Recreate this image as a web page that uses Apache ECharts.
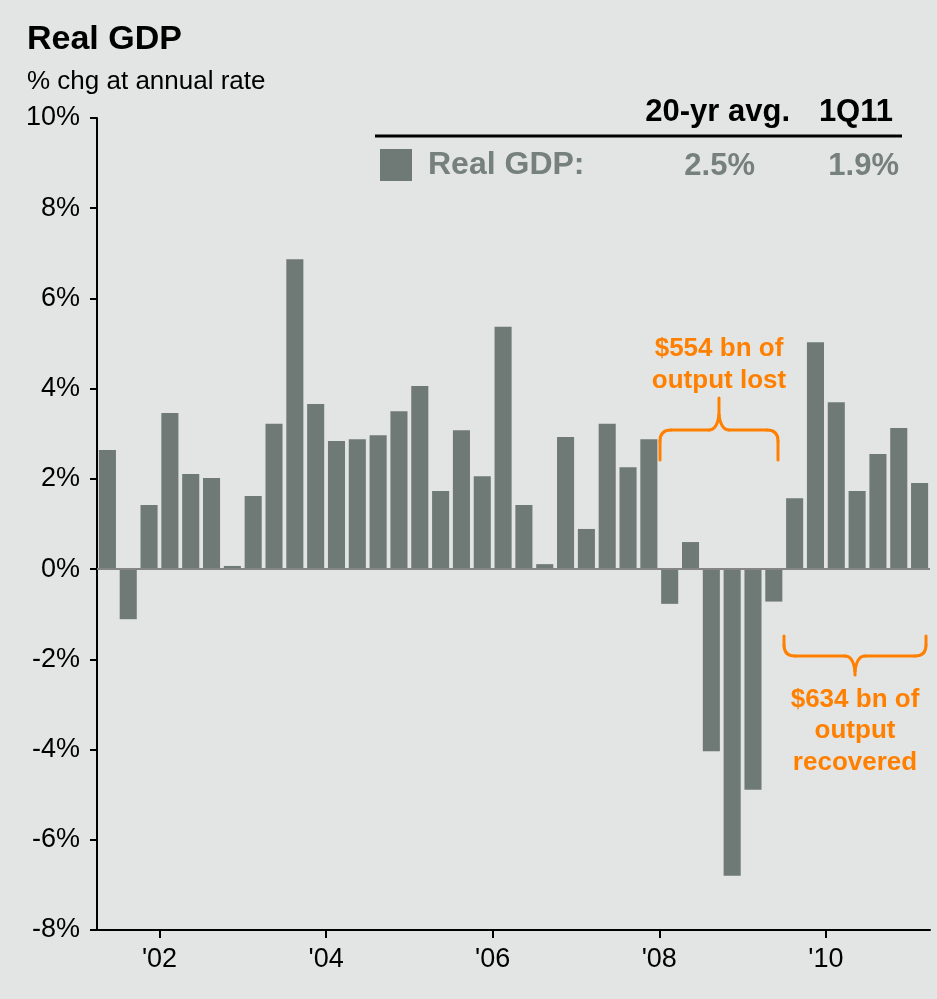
<!DOCTYPE html>
<html>
<head>
    <meta charset="utf-8"/>
    <title>Real GDP</title>
    <script src="https://cdn.jsdelivr.net/npm/echarts@6/dist/echarts.min.js"></script>
    <style>
        html, body { margin: 0; padding: 0; background: #e3e5e4; }
    </style>
</head>
<body>
<div id="main" style="width: 937px;height:999px;"></div>
<script type="text/javascript">
    // quarters, 2Q01 .. 1Q11
    var quarters = ['2Q01','3Q01','4Q01','1Q02','2Q02','3Q02','4Q02','1Q03','2Q03','3Q03',
                    '4Q03','1Q04','2Q04','3Q04','4Q04','1Q05','2Q05','3Q05','4Q05','1Q06',
                    '2Q06','3Q06','4Q06','1Q07','2Q07','3Q07','4Q07','1Q08','2Q08','3Q08',
                    '4Q08','1Q09','2Q09','3Q09','4Q09','1Q10','2Q10','3Q10','4Q10','1Q11'];
    // real GDP, % chg at annual rate
    var gdp = [2.64, -1.11, 1.42, 3.46, 2.11, 2.02, 0.07, 1.62, 3.22, 6.87,
               3.66, 2.84, 2.88, 2.97, 3.50, 4.06, 1.73, 3.08, 2.06, 5.37,
               1.42, 0.11, 2.93, 0.89, 3.22, 2.26, 2.88, -0.77, 0.60, -4.04,
               -6.80, -4.89, -0.72, 1.57, 5.03, 3.70, 1.73, 2.55, 3.13, 1.91];
    // year ticks on the time axis
    var yearTicks = [2002, 2004, 2006, 2008, 2010];
    var avg20 = '2.5%';
    var latest = '1.9%';

    var FONT = '"Liberation Sans", Arial, Helvetica, sans-serif';
    var ORANGE = '#ff8000';
    var BAR = '#6f7a77';
    var GREYTXT = '#76807d';

    // curly brace built from lines and quadratic curves
    function brace(x1, x2, y, tip, end) {
        var xm = (x1 + x2) / 2;
        var r = 11;
        var st = { stroke: ORANGE, lineWidth: 3, fill: null, lineCap: 'round' };
        var s = tip < y ? -1 : 1;          // direction of the tip
        var e = end < y ? -1 : 1;          // direction of the ends
        var mid = y + s * 15;
        return [
            { type: 'line', shape: { x1: x1, y1: end, x2: x1, y2: y + e * r }, style: st },
            { type: 'bezierCurve', shape: { x1: x1, y1: y + e * r, cpx1: x1, cpy1: y, x2: x1 + r, y2: y }, style: st },
            { type: 'line', shape: { x1: x1 + r, y1: y, x2: xm - 10, y2: y }, style: st },
            { type: 'bezierCurve', shape: { x1: xm - 10, y1: y, cpx1: xm - 2, cpy1: y, x2: xm, y2: mid }, style: st },
            { type: 'bezierCurve', shape: { x1: xm + 10, y1: y, cpx1: xm + 2, cpy1: y, x2: xm, y2: mid }, style: st },
            { type: 'line', shape: { x1: xm, y1: mid, x2: xm, y2: tip }, style: st },
            { type: 'line', shape: { x1: xm + 10, y1: y, x2: x2 - r, y2: y }, style: st },
            { type: 'bezierCurve', shape: { x1: x2 - r, y1: y, cpx1: x2, cpy1: y, x2: x2, y2: y + e * r }, style: st },
            { type: 'line', shape: { x1: x2, y1: y + e * r, x2: x2, y2: end }, style: st }
        ];
    }

    var myChart = echarts.init(document.getElementById('main'));

    var graphics = [
        // table header
        { type: 'text', style: { text: '20-yr avg.', x: 790, y: 112, align: 'right', verticalAlign: 'middle', font: 'bold 31px ' + FONT, fill: '#000' } },
        { type: 'text', style: { text: '1Q11', x: 893, y: 112, align: 'right', verticalAlign: 'middle', font: 'bold 31px ' + FONT, fill: '#000' } },
        { type: 'line', shape: { x1: 375, y1: 136, x2: 902, y2: 136 }, style: { stroke: '#000', lineWidth: 3 } },
        { type: 'text', style: { text: avg20, x: 755, y: 166, align: 'right', verticalAlign: 'middle', font: 'bold 31px ' + FONT, fill: GREYTXT } },
        { type: 'text', style: { text: latest, x: 899, y: 166, align: 'right', verticalAlign: 'middle', font: 'bold 31px ' + FONT, fill: GREYTXT } },
        // annotations
        { type: 'text', style: { text: '$554 bn of\noutput lost', x: 719, y: 365, align: 'center', verticalAlign: 'middle', lineHeight: 32, font: 'bold 26px ' + FONT, fill: ORANGE } },
        { type: 'text', style: { text: '$634 bn of\noutput\nrecovered', x: 855, y: 731, align: 'center', verticalAlign: 'middle', lineHeight: 31.5, font: 'bold 26px ' + FONT, fill: ORANGE } }
    ].concat(brace(660, 778, 430, 398, 460))
     .concat(brace(784, 926, 656, 675, 636));

    var option = {
        backgroundColor: '#e3e5e4',
        animation: false,
        textStyle: { fontFamily: FONT },
        title: [
            { text: 'Real GDP', left: 27, top: 23, padding: 0, textStyle: { fontFamily: FONT, fontSize: 34, fontWeight: 'bold', color: '#000' } },
            { text: '% chg at annual rate', left: 27, top: 69, padding: 0, textStyle: { fontFamily: FONT, fontSize: 26, fontWeight: 'normal', color: '#000' } }
        ],
        legend: {
            left: 380, top: 149, padding: 0,
            itemWidth: 32, itemHeight: 32, itemGap: 10,
            icon: 'rect',
            data: ['Real GDP'],
            formatter: function (n) { return n + ':'; },
            textStyle: { fontFamily: FONT, fontSize: 32, fontWeight: 'bold', color: GREYTXT, padding: [0, 0, 0, 11] }
        },
        grid: { left: 97, right: 7, top: 118, bottom: 69 },
        xAxis: [
            {
                type: 'category',
                data: quarters,
                axisLine: { onZero: false, lineStyle: { color: '#000', width: 2 } },
                axisTick: { show: false },
                axisLabel: { show: false }
            },
            {
                type: 'value',
                position: 'bottom',
                min: 2001.25,
                max: 2011.25,
                axisLine: { show: false, onZero: false },
                splitLine: { show: false },
                axisTick: { show: true, customValues: yearTicks, length: 8, lineStyle: { color: '#000', width: 2 } },
                axisLabel: {
                    customValues: yearTicks,
                    margin: 16,
                    fontFamily: FONT, fontSize: 27, color: '#000',
                    formatter: function (v) { return "'" + String(v).slice(2); }
                }
            }
        ],
        yAxis: {
            type: 'value',
            min: -8, max: 10, interval: 2,
            axisLine: { show: true, lineStyle: { color: '#000', width: 2 } },
            axisTick: { show: true, length: 7, lineStyle: { color: '#000', width: 2 } },
            axisLabel: { margin: 17, fontFamily: FONT, fontSize: 27, color: '#000', formatter: '{value}%' },
            splitLine: { show: false }
        },
        series: [{
            name: 'Real GDP',
            type: 'bar',
            data: gdp,
            barCategoryGap: '18%',
            itemStyle: { color: BAR },
            markLine: {
                silent: true,
                symbol: 'none',
                label: { show: false },
                lineStyle: { color: '#858585', width: 2, type: 'solid' },
                data: [{ yAxis: 0 }]
            }
        }],
        graphic: graphics
    };

    myChart.setOption(option);
</script>
</body>
</html>
